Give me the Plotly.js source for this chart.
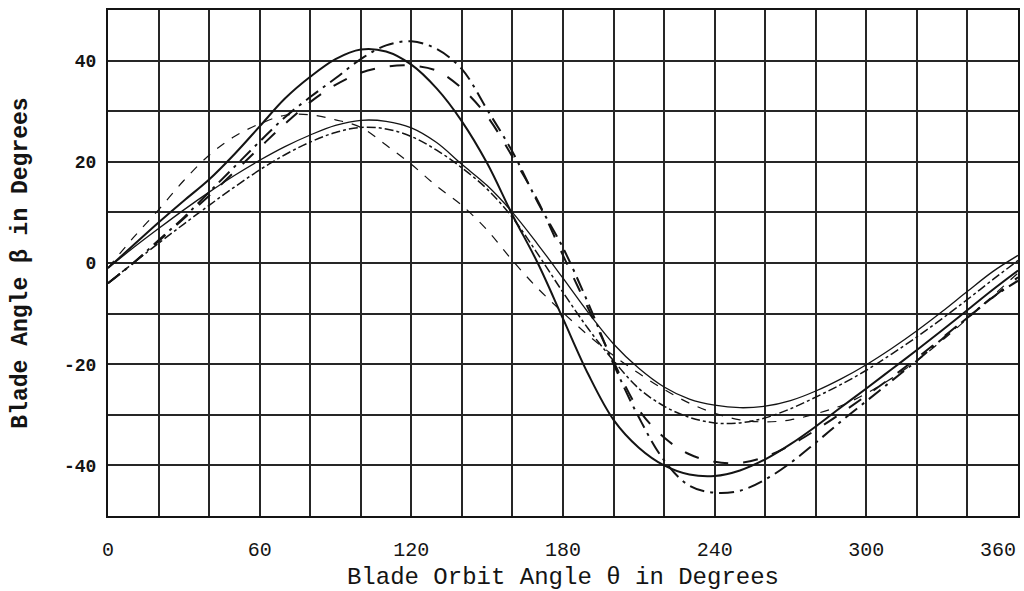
<!DOCTYPE html>
<html>
<head>
<meta charset="utf-8">
<script src="https://cdn.plot.ly/plotly-3.0.1.min.js"></script>
<style>html,body{margin:0;padding:0;background:#fff;}#chart{width:1024px;height:591px;}</style>
</head>
<body>
<div id="chart"></div>
<script>
// Blade orbit angle (degrees)
const theta = [0,10,20,30,40,50,60,70,80,90,100,110,120,130,140,150,160,170,180,190,200,210,220,230,240,250,260,270,280,290,300,310,320,330,340,350,360];

// Blade angle beta (degrees) for each curve
const curveA = [-4,0,4.5,9,14,19,24,28.8,32.8,36.5,40.3,43,43.8,42.3,38.3,30.3,22,12,3,-8,-20,-30.5,-39,-44,-45.4,-45,-42.8,-39.5,-35.5,-31.3,-27.3,-23.3,-19.3,-15,-10.8,-6.8,-3.5];
const curveB = [-1,3.5,8,12.3,16.5,21.5,27,32.5,36.8,40.3,42.2,41.8,39.2,34.5,28,19.7,9.5,0,-11,-22,-31,-36.5,-40,-41.8,-42.1,-41,-38.8,-35.8,-32.3,-28.5,-24.8,-21,-17.2,-13.3,-9.3,-5.3,-1.5];
const curveC = [-4,0,4.3,8.8,13.3,18,22.8,27.5,31.8,35.2,37.6,38.8,39,38,34.5,29,21,12.3,1.5,-9,-19.5,-29,-34.5,-37.8,-39.3,-39.5,-38.3,-36,-33,-29.7,-26.2,-22.6,-18.8,-14.8,-10.8,-6.8,-2.8];
const curveD = [-1,5,10.5,16.3,21.3,25,27.5,29.2,29.3,28.3,26.8,23.3,19.5,15.2,11.4,6.5,0.5,-5,-9.8,-14.3,-18.3,-21.8,-25,-27.7,-29.7,-31,-31.4,-31,-29.8,-28.2,-25.8,-22.8,-19.3,-15.3,-11,-6.5,-2];
const curveE = [-1,3,6.8,10.5,14,17.3,20.3,23,25.3,27.2,28.2,28,26.7,23.8,19.5,15.3,10,3.7,-3,-9.8,-16,-20.8,-24.5,-26.9,-28.1,-28.6,-28.3,-27.2,-25.3,-22.9,-20.1,-16.9,-13.4,-9.6,-5.6,-1.7,1.5];
const curveF = [-4,0,3.9,7.7,11.4,15,18.4,21.4,23.9,25.8,26.8,26.5,25,22.3,18.8,14.6,9,1.8,-5.8,-13,-19.3,-24.8,-28.3,-30.5,-31.6,-31.6,-30.6,-28.8,-26.5,-24,-21.2,-18,-14.6,-11,-7.2,-3.3,0.5];

// Tick labels
const xTickVals = [0,60,120,180,240,300,360];
const xTickText = ['0','60','120','180','240','300','360'];
const yTickVals = [-40,-20,0,20,40];
const yTickText = ['-40','-20','0','20','40'];

const ink = '#141414';
const gridInk = '#262626';
const mono = 'Liberation Mono, Courier New, monospace';

function tr(y, dash, width) {
  return {x: theta, y: y, type: 'scatter', mode: 'lines',
    line: {color: ink, width: width, dash: dash, shape: 'spline', smoothing: 1},
    hoverinfo: 'skip'};
}

const data = [
  tr(curveA, 'longdashdot', 2),
  tr(curveB, 'solid', 2),
  tr(curveC, 'longdash', 2),
  tr(curveD, 'dash', 1.2),
  tr(curveE, 'solid', 1.3),
  tr(curveF, 'dashdot', 1.5)
];

const layout = {
  width: 1024, height: 591,
  margin: {l: 108, r: 6, t: 10, b: 75},
  paper_bgcolor: '#ffffff', plot_bgcolor: '#ffffff',
  showlegend: false,
  xaxis: {
    range: [0, 360], autorange: false,
    tickmode: 'array', tickvals: xTickVals.slice(0, -1), ticktext: xTickText.slice(0, -1),
    showgrid: true, gridcolor: gridInk, gridwidth: 2,
    minor: {tickmode: 'linear', tick0: 0, dtick: 20, showgrid: true, gridcolor: gridInk, gridwidth: 2, ticks: ''},
    showline: true, mirror: true, linecolor: ink, linewidth: 2,
    zeroline: false, ticks: '',
    tickfont: {family: mono, size: 20, color: ink},
    ticklabelstandoff: 14,
    title: {text: 'Blade Orbit Angle θ in Degrees', font: {family: mono, size: 24, color: ink}, standoff: 8},
    automargin: false
  },
  yaxis: {
    range: [-50, 50], autorange: false,
    tickmode: 'array', tickvals: yTickVals, ticktext: yTickText,
    showgrid: true, gridcolor: gridInk, gridwidth: 2,
    minor: {tickmode: 'linear', tick0: 0, dtick: 10, showgrid: true, gridcolor: gridInk, gridwidth: 2, ticks: ''},
    showline: true, mirror: true, linecolor: ink, linewidth: 2,
    zeroline: false, ticks: '',
    tickfont: {family: mono, size: 18, color: ink, weight: 'bold'},
    ticklabelstandoff: 6,
    title: {text: 'Blade Angle β in Degrees', font: {family: mono, size: 23, color: ink, weight: 'bold'}, standoff: 30},
    automargin: false
  },
  annotations: [{
    x: xTickVals[xTickVals.length - 1], xref: 'x', y: 0, yref: 'paper',
    xanchor: 'right', yanchor: 'top', yshift: -21, showarrow: false,
    text: xTickText[xTickText.length - 1],
    font: {family: mono, size: 20, color: ink}
  }]
};

Plotly.newPlot('chart', data, layout, {staticPlot: true, displayModeBar: false});
</script>
</body>
</html>
